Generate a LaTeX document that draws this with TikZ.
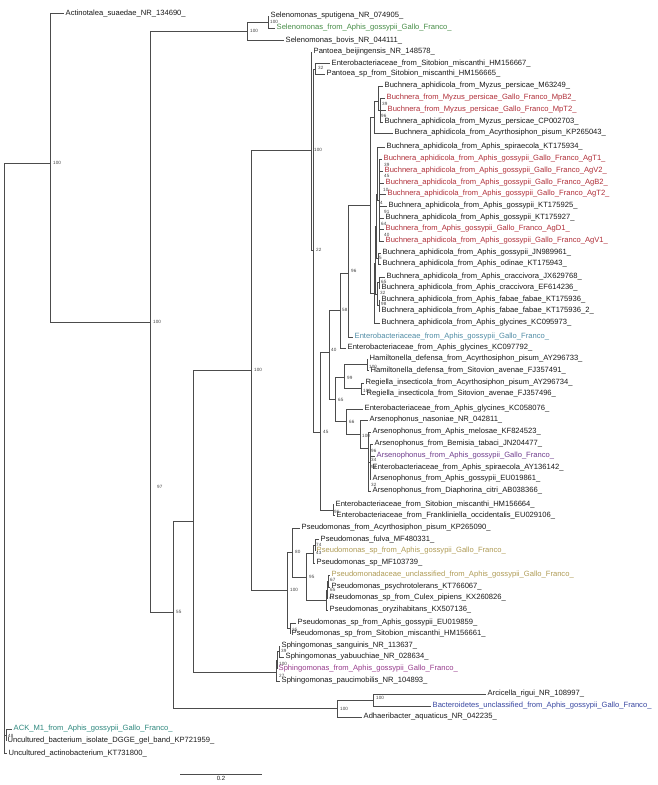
\documentclass[tikz,border=0pt]{standalone}
\usepackage{fontspec}
\setmainfont{Liberation Sans}
\usetikzlibrary{calc}
\definecolor{selgreen}{RGB}{70,140,70}
\definecolor{bucred}{RGB}{175,45,55}
\definecolor{entblue}{RGB}{80,140,165}
\definecolor{arspurple}{RGB}{110,60,140}
\definecolor{pseolive}{RGB}{175,155,85}
\definecolor{sphmag}{RGB}{150,60,140}
\definecolor{bacblue}{RGB}{55,70,160}
\definecolor{ackteal}{RGB}{45,135,125}
\definecolor{txt}{RGB}{25,25,25}
\tikzset{taxon/.style={anchor=west, inner sep=1.5pt, font=\fontsize{7.6}{8}\selectfont},
  bootval/.style={anchor=west, inner sep=0pt, text=black!75, font=\fontsize{4.6}{5}\selectfont},
  branch/.style={draw=black!70, line width=0.9pt}}
\newcommand{\taxon}[5]{\node[taxon, text=#5] (#1) at (#2,#3) {#4};}
\newcommand{\boot}[4]{\node[bootval] (#1) at (#2,#3) {#4};}
\newcommand{\clade}[2]{\foreach \c in {#2} {\draw[branch] (#1) |- (\c);}}

\begin{document}
\begin{tikzpicture}[x=1pt,y=-1pt]
        \useasboundingbox (0,0) rectangle (658,785);
        % inner nodes
        \coordinate (root) at (4,458);
        \coordinate (A) at (50,163);
        \coordinate (B) at (150,322);
        \coordinate (C) at (247,31);
        \coordinate (C1) at (268,22);
        \coordinate (E) at (173,612);
        \coordinate (F) at (193,521);
        \coordinate (G) at (251,370);
        \coordinate (I) at (311,150);
        \coordinate (J) at (313,250);
        \coordinate (K) at (315,69);
        \coordinate (L) at (320,432);
        \coordinate (M) at (329,352);
        \coordinate (S) at (340,310);
        \coordinate (R) at (348,273);
        \coordinate (BuA) at (370,205);
        \coordinate (My) at (374,117);
        \coordinate (My2) at (378,101);
        \coordinate (My3) at (380,110);
        \coordinate (Ap) at (374,293);
        \coordinate (Ap1) at (375,263);
        \coordinate (Ap2) at (376,226);
        \coordinate (Ap4) at (377,194);
        \coordinate (Ap5) at (378,258);
        \coordinate (Ap6) at (379,200);
        \coordinate (Cr) at (377,294);
        \coordinate (Cr1) at (379,282);
        \coordinate (Fb) at (379,305);
        \coordinate (T) at (335,399);
        \coordinate (U) at (344,377);
        \coordinate (Ham) at (367,364);
        \coordinate (Reg) at (361,388);
        \coordinate (V) at (346,421);
        \coordinate (Ars) at (360,434);
        \coordinate (Ars2) at (368,448);
        \coordinate (Ars3) at (370,462);
        \coordinate (N) at (333,510);
        \coordinate (P) at (287,590);
        \coordinate (W) at (292,552);
        \coordinate (X) at (306,577);
        \coordinate (Y) at (313,553);
        \coordinate (Y1) at (315,545);
        \coordinate (Z) at (326,600);
        \coordinate (Z1) at (327,590);
        \coordinate (Z2) at (328,581);
        \coordinate (Q2) at (290,628);
        \coordinate (SpR) at (276,672);
        \coordinate (SpX) at (277,660);
        \coordinate (SpB) at (279,651);
        \coordinate (Bac) at (337,708);
        \coordinate (BacS) at (373,700);
        \coordinate (U48) at (6,735);
        % taxa
        \taxon{actino}{64}{13}{Actinotalea\_suaedae\_NR\_134690\_}{txt}
        \taxon{selspu}{269}{16}{Selenomonas\_sputigena\_NR\_074905\_}{txt}
        \taxon{selgos}{275}{28}{Selenomonas\_from\_Aphis\_gossypii\_Gallo\_Franco\_}{selgreen}
        \taxon{selbov}{284}{40}{Selenomonas\_bovis\_NR\_044111\_}{txt}
        \taxon{panbei}{312}{52}{Pantoea\_beijingensis\_NR\_148578\_}{txt}
        \taxon{entsma}{330}{63}{Enterobacteriaceae\_from\_Sitobion\_miscanthi\_HM156667\_}{txt}
        \taxon{pansp}{325}{74}{Pantoea\_sp\_from\_Sitobion\_miscanthi\_HM156665\_}{txt}
        \taxon{bmpa}{383}{86}{Buchnera\_aphidicola\_from\_Myzus\_persicae\_M63249\_}{txt}
        \taxon{bmpb}{385}{98}{Buchnera\_from\_Myzus\_persicae\_Gallo\_Franco\_MpB2\_}{bucred}
        \taxon{bmpc}{386}{110}{Buchnera\_from\_Myzus\_persicae\_Gallo\_Franco\_MpT2\_}{bucred}
        \taxon{bmpd}{383}{122}{Buchnera\_aphidicola\_from\_Myzus\_persicae\_CP002703\_}{txt}
        \taxon{bacy}{393}{133}{Buchnera\_aphidicola\_from\_Acyrthosiphon\_pisum\_KP265043\_}{txt}
        \taxon{bspi}{385}{147}{Buchnera\_aphidicola\_from\_Aphis\_spiraecola\_KT175934\_}{txt}
        \taxon{baga}{382}{159}{Buchnera\_aphidicola\_from\_Aphis\_gossypii\_Gallo\_Franco\_AgT1\_}{bucred}
        \taxon{bagb}{383}{171}{Buchnera\_aphidicola\_from\_Aphis\_gossypii\_Gallo\_Franco\_AgV2\_}{bucred}
        \taxon{bagc}{384}{183}{Buchnera\_aphidicola\_from\_Aphis\_gossypii\_Gallo\_Franco\_AgB2\_}{bucred}
        \taxon{bagd}{386}{194}{Buchnera\_aphidicola\_from\_Aphis\_gossypii\_Gallo\_Franco\_AgT2\_}{bucred}
        \taxon{bage}{387}{206}{Buchnera\_aphidicola\_from\_Aphis\_gossypii\_KT175925\_}{txt}
        \taxon{bagf}{384}{218}{Buchnera\_aphidicola\_from\_Aphis\_gossypii\_KT175927\_}{txt}
        \taxon{bagg}{384}{229}{Buchnera\_from\_Aphis\_gossypii\_Gallo\_Franco\_AgD1\_}{bucred}
        \taxon{bagh}{384}{241}{Buchnera\_aphidicola\_from\_Aphis\_gossypii\_Gallo\_Franco\_AgV1\_}{bucred}
        \taxon{bagi}{381}{253}{Buchnera\_aphidicola\_from\_Aphis\_gossypii\_JN989961\_}{txt}
        \taxon{bodi}{381}{264}{Buchnera\_aphidicola\_from\_Aphis\_odinae\_KT175943\_}{txt}
        \taxon{bcra}{385}{277}{Buchnera\_aphidicola\_from\_Aphis\_craccivora\_JX629768\_}{txt}
        \taxon{bcrb}{380}{288}{Buchnera\_aphidicola\_from\_Aphis\_craccivora\_EF614236\_}{txt}
        \taxon{bfaa}{380}{300}{Buchnera\_aphidicola\_from\_Aphis\_fabae\_fabae\_KT175936\_}{txt}
        \taxon{bfab}{380}{311}{Buchnera\_aphidicola\_from\_Aphis\_fabae\_fabae\_KT175936\_2\_}{txt}
        \taxon{bgly}{380}{323}{Buchnera\_aphidicola\_from\_Aphis\_glycines\_KC095973\_}{txt}
        \taxon{entgos}{353}{337}{Enterobacteriaceae\_from\_Aphis\_gossypii\_Gallo\_Franco\_}{entblue}
        \taxon{entgla}{346}{348}{Enterobacteriaceae\_from\_Aphis\_glycines\_KC097792\_}{txt}
        \taxon{hama}{368}{359}{Hamiltonella\_defensa\_from\_Acyrthosiphon\_pisum\_AY296733\_}{txt}
        \taxon{hamb}{369}{370}{Hamiltonella\_defensa\_from\_Sitovion\_avenae\_FJ357491\_}{txt}
        \taxon{rega}{364}{383}{Regiella\_insecticola\_from\_Acyrthosiphon\_pisum\_AY296734\_}{txt}
        \taxon{regb}{365}{394}{Regiella\_insecticola\_from\_Sitovion\_avenae\_FJ357496\_}{txt}
        \taxon{entglb}{363}{409}{Enterobacteriaceae\_from\_Aphis\_glycines\_KC058076\_}{txt}
        \taxon{arsnas}{368}{420}{Arsenophonus\_nasoniae\_NR\_042811\_}{txt}
        \taxon{arsmel}{371}{432}{Arsenophonus\_from\_Aphis\_melosae\_KF824523\_}{txt}
        \taxon{arsbem}{373}{444}{Arsenophonus\_from\_Bemisia\_tabaci\_JN204477\_}{txt}
        \taxon{arsgos}{375}{456}{Arsenophonus\_from\_Aphis\_gossypii\_Gallo\_Franco\_}{arspurple}
        \taxon{entspi}{371}{468}{Enterobacteriaceae\_from\_Aphis\_spiraecola\_AY136142\_}{txt}
        \taxon{arseu}{371}{479}{Arsenophonus\_from\_Aphis\_gossypii\_EU019861\_}{txt}
        \taxon{arsdia}{371}{491}{Arsenophonus\_from\_Diaphorina\_citri\_AB038366\_}{txt}
        \taxon{entsmb}{334}{504}{Enterobacteriaceae\_from\_Sitobion\_miscanthi\_HM156664\_}{txt}
        \taxon{entfra}{335}{515}{Enterobacteriaceae\_from\_Frankliniella\_occidentalis\_EU029106\_}{txt}
        \taxon{pseacy}{300}{528}{Pseudomonas\_from\_Acyrthosiphon\_pisum\_KP265090\_}{txt}
        \taxon{pseful}{319}{539}{Pseudomonas\_fulva\_MF480331\_}{txt}
        \taxon{psegos}{315}{551}{Pseudomonas\_sp\_from\_Aphis\_gossypii\_Gallo\_Franco\_}{pseolive}
        \taxon{psemf}{315}{563}{Pseudomonas\_sp\_MF103739\_}{txt}
        \taxon{pseunc}{330}{575}{Pseudomonadaceae\_unclassified\_from\_Aphis\_gossypii\_Gallo\_Franco\_}{pseolive}
        \taxon{psepsy}{330}{587}{Pseudomonas\_psychrotolerans\_KT766067\_}{txt}
        \taxon{psecul}{328}{598}{Pseudomonas\_sp\_from\_Culex\_pipiens\_KX260826\_}{txt}
        \taxon{pseory}{328}{610}{Pseudomonas\_oryzihabitans\_KX507136\_}{txt}
        \taxon{pseeu}{296}{623}{Pseudomonas\_sp\_from\_Aphis\_gossypii\_EU019859\_}{txt}
        \taxon{psesm}{290}{634}{Pseudomonas\_sp\_from\_Sitobion\_miscanthi\_HM156661\_}{txt}
        \taxon{sphsan}{280}{646}{Sphingomonas\_sanguinis\_NR\_113637\_}{txt}
        \taxon{sphyab}{284}{657}{Sphingomonas\_yabuuchiae\_NR\_028634\_}{txt}
        \taxon{sphgos}{277}{669}{Sphingomonas\_from\_Aphis\_gossypii\_Gallo\_Franco\_}{sphmag}
        \taxon{sphpau}{280}{681}{Sphingomonas\_paucimobilis\_NR\_104893\_}{txt}
        \taxon{arcrig}{486}{694}{Arcicella\_rigui\_NR\_108997\_}{txt}
        \taxon{bacunc}{431}{706}{Bacteroidetes\_unclassified\_from\_Aphis\_gossypii\_Gallo\_Franco\_}{bacblue}
        \taxon{adhaq}{362}{717}{Adhaeribacter\_aquaticus\_NR\_042235\_}{txt}
        \taxon{ack}{12}{729}{ACK\_M1\_from\_Aphis\_gossypii\_Gallo\_Franco\_}{ackteal}
        \taxon{uncbac}{6}{741}{Uncultured\_bacterium\_isolate\_DGGE\_gel\_band\_KP721959\_}{txt}
        \taxon{uncact}{7}{753}{Uncultured\_actinobacterium\_KT731800\_}{txt}
        % branches
        \clade{root}{A,U48,uncact}
        \clade{A}{actino,B}
        \clade{B}{C,E}
        \clade{C}{C1,selbov}
        \clade{C1}{selspu,selgos}
        \clade{E}{F,Bac}
        \clade{F}{G,SpR}
        \clade{G}{I,P}
        \clade{I}{panbei,J}
        \clade{J}{K,L}
        \clade{K}{entsma,pansp}
        \clade{L}{M,N}
        \clade{M}{S,T}
        \clade{S}{R,entgla}
        \clade{R}{BuA,entgos}
        \clade{BuA}{My,Ap}
        \clade{My}{My2,bacy}
        \clade{My2}{bmpa,My3}
        \clade{My3}{bmpb,bmpc,bmpd}
        \clade{Ap}{Ap1,bgly}
        \clade{Ap1}{Ap2,Cr}
        \clade{Ap2}{Ap4,Ap5}
        \clade{Ap4}{bspi,Ap6}
        \clade{Ap6}{baga,bagb,bagc,bagd,bage,bagf,bagg,bagh}
        \clade{Ap5}{bagi,bodi}
        \clade{Cr}{Cr1,Fb}
        \clade{Cr1}{bcra,bcrb}
        \clade{Fb}{bfaa,bfab}
        \clade{T}{U,V}
        \clade{U}{Ham,Reg}
        \clade{Ham}{hama,hamb}
        \clade{Reg}{rega,regb}
        \clade{V}{entglb,Ars}
        \clade{Ars}{arsnas,Ars2}
        \clade{Ars2}{arsmel,Ars3,arsdia}
        \clade{Ars3}{arsbem,arsgos,entspi,arseu}
        \clade{N}{entsmb,entfra}
        \clade{P}{W,Q2}
        \clade{W}{pseacy,X}
        \clade{X}{Y,Z}
        \clade{Y}{Y1,psemf}
        \clade{Y1}{pseful,psegos}
        \clade{Z}{Z1,pseory}
        \clade{Z1}{Z2,psecul}
        \clade{Z2}{pseunc,psepsy}
        \clade{Q2}{pseeu,psesm}
        \clade{SpR}{SpX,sphpau}
        \clade{SpX}{SpB,sphgos}
        \clade{SpB}{sphsan,sphyab}
        \clade{Bac}{BacS,adhaq}
        \clade{BacS}{arcrig,bacunc}
        \clade{U48}{ack,uncbac}
        % bootstrap values
        \boot{bA}{53}{163}{100}
        \boot{bB}{153}{322}{100}
        \boot{bC}{250}{31}{100}
        \boot{bCa}{270}{22}{100}
        \boot{bE}{176}{612}{55}
        \boot{bF}{157}{487}{97}
        \boot{bG}{254}{370}{100}
        \boot{bI}{314}{150}{100}
        \boot{bJ}{316}{250}{22}
        \boot{bK}{318}{68}{32}
        \boot{bL}{323}{432}{45}
        \boot{bM}{331}{350}{40}
        \boot{bS}{342}{310}{58}
        \boot{bR}{351}{271}{96}
        \boot{bMya}{382}{104}{39}
        \boot{bMyb}{381}{116}{96}
        \boot{bApa}{384}{165}{39}
        \boot{bApb}{384}{176}{45}
        \boot{bApc}{383}{190}{10}
        \boot{bApd}{380}{203}{4}
        \boot{bApe}{384}{212}{91}
        \boot{bApf}{381}{224}{64}
        \boot{bApg}{384}{235}{40}
        \boot{bAph}{379}{258}{5}
        \boot{bApi}{381}{282}{65}
        \boot{bApj}{380}{293}{32}
        \boot{bApk}{381}{304}{98}
        \boot{bU}{347}{378}{99}
        \boot{bHam}{369}{367}{100}
        \boot{bReg}{363}{391}{100}
        \boot{bT}{338}{400}{65}
        \boot{bV}{349}{422}{66}
        \boot{bArs}{362}{436}{100}
        \boot{bArsa}{371}{451}{96}
        \boot{bArsb}{371}{460}{34}
        \boot{bArsc}{371}{467}{92}
        \boot{bArsd}{371}{485}{32}
        \boot{bN}{334}{512}{96}
        \boot{bP}{290}{590}{100}
        \boot{bW}{295}{552}{80}
        \boot{bX}{309}{577}{95}
        \boot{bYa}{316}{545}{74}
        \boot{bY}{316}{553}{43}
        \boot{bZb}{330}{580}{67}
        \boot{bZa}{330}{590}{65}
        \boot{bZ}{329}{598}{46}
        \boot{bQ}{292}{630}{25}
        \boot{bSpB}{281}{651}{39}
        \boot{bSpX}{279}{664}{100}
        \boot{bSpR}{279}{676}{27}
        \boot{bBac}{340}{709}{100}
        \boot{bBacS}{376}{698}{100}
        \boot{bUn}{8}{736}{48}
        % scale bar
        \coordinate (sbl) at (180,774);
        \coordinate (sbr) at (262,774);
        \draw[branch] (sbl) -- node[below=2pt, inner sep=0pt, font=\fontsize{6}{7}\selectfont, text=txt] (sbtxt) {0.2} (sbr);
\end{tikzpicture}
\end{document}
